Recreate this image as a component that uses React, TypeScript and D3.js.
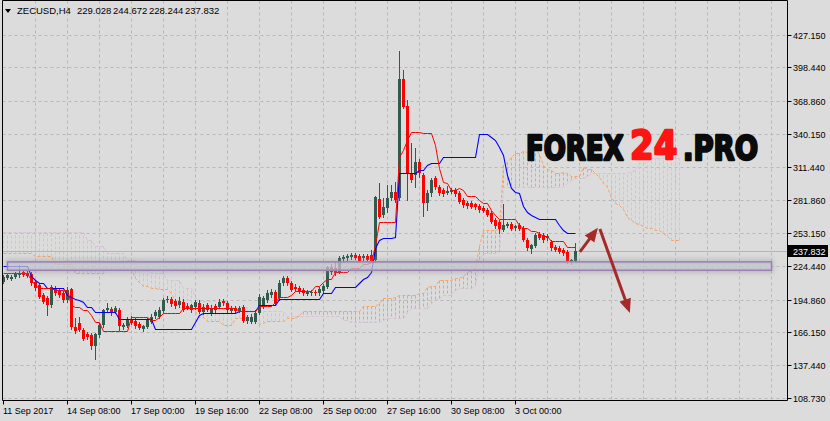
import React from "react";
import * as d3 from "d3";

// ---------- data ----------
const title = "ZECUSD,H4";
const titleValues = ["229.028", "244.672", "228.244", "237.832"];
const lastPrice = 237.832;

const priceTicks = [427.15, 398.44, 368.86, 340.15, 311.44, 281.86, 253.15, 224.44, 194.86, 166.15, 137.44, 108.73];
const timeLabels = ["11 Sep 2017", "14 Sep 08:00", "17 Sep 00:00", "19 Sep 16:00", "22 Sep 08:00", "25 Sep 00:00", "27 Sep 16:00", "30 Sep 08:00", "3 Oct 00:00"];
const timeLabelBars = [0, 16, 32, 48, 64, 80, 96, 112, 128];

const opens = [210.5,213.8,212.7,214.4,216.4,218.8,217.9,217.3,210.5,207.6,198.9,196.0,190.1,204.8,203.3,200.4,194.5,203.9,171.1,174.3,168.2,164.7,163.8,154.2,163.8,172.6,185.7,186.6,184.2,185.7,170.8,172.0,177.8,176.3,173.2,168.8,171.1,175.5,180.5,179.8,185.1,194.5,195.1,193.6,190.1,193.0,189.2,185.7,188.4,192.1,184.2,190.1,183.4,189.2,188.6,193.6,192.1,184.9,187.2,185.1,188.6,176.1,175.5,175.5,183.4,190.1,194.5,198.9,201.8,196.0,209.1,213.5,209.1,206.2,205.3,203.3,199.8,200.4,201.8,200.4,202.6,206.2,223.2,222.3,219.3,230.2,231.1,231.9,233.9,233.1,231.1,233.1,233.9,229.6,282.8,269.0,274.9,283.7,289.5,283.7,388.0,364.6,305.6,304.1,315.8,304.1,279.3,288.1,301.2,293.9,290.9,288.6,289.5,290.9,288.1,282.2,279.8,279.3,278.4,276.9,274.9,273.4,270.5,264.6,263.2,255.8,259.4,261.2,257.4,260.3,257.4,247.1,238.9,242.1,252.1,251.5,248.6,245.6,241.2,239.8,238.4,236.9,228.7,229.028];
const highs = [216.4,217.3,216.4,219.1,225.2,220.8,219.9,219.1,212.0,209.4,200.6,198.0,207.6,206.8,205.0,202.4,205.9,205.0,178.7,179.6,170.0,166.4,165.6,165.6,174.3,186.6,191.9,188.4,189.2,187.5,174.3,179.6,180.5,178.7,175.2,172.6,178.7,182.2,185.7,188.4,196.3,198.0,197.1,195.4,197.1,195.4,191.9,191.0,194.5,194.5,191.0,191.9,190.1,191.0,195.4,195.4,193.6,189.2,189.2,189.2,190.1,181.3,182.2,185.7,199.8,198.0,203.3,204.2,203.3,212.0,215.5,215.5,211.2,208.5,206.8,205.0,203.3,203.3,203.3,205.9,208.5,224.3,226.1,227.8,233.1,233.9,234.8,235.7,235.7,234.8,234.8,234.8,238.3,285.7,296.8,283.9,295.4,295.4,298.2,412.9,396.2,369.9,331.9,327.8,318.2,305.9,290.9,301.5,303.3,295.4,292.7,294.5,292.7,292.7,290.1,283.9,281.3,281.3,279.5,278.7,276.9,275.1,272.5,266.4,264.6,278.7,262.9,262.9,260.3,262.0,259.4,248.8,243.6,253.2,254.1,253.2,252.3,247.1,242.7,241.8,240.1,238.4,230.4,244.672];
const lows = [209.4,212.9,212.0,213.8,214.7,215.5,214.7,207.6,203.3,196.3,191.9,181.3,188.3,198.9,197.1,192.7,192.7,169.1,165.6,167.3,159.4,160.3,151.5,142.5,162.0,170.8,184.0,181.3,183.1,168.2,169.1,170.8,173.4,170.0,169.1,167.3,170.0,174.3,178.7,178.7,184.0,192.7,189.2,187.5,188.4,184.9,186.6,184.0,186.6,183.1,182.2,184.9,181.3,184.0,187.5,190.1,184.0,183.1,184.0,184.0,175.2,174.3,174.3,174.3,182.2,187.5,192.7,197.1,190.1,194.5,207.6,207.6,202.4,202.4,200.6,198.9,198.9,198.9,198.9,198.9,201.5,205.0,217.3,216.4,218.2,228.7,229.6,230.4,230.4,227.8,229.6,228.7,227.8,227.8,266.4,267.3,271.6,282.2,280.4,282.2,362.9,282.2,298.0,293.9,302.4,268.2,273.4,285.7,291.8,286.6,285.7,287.4,288.3,285.7,279.5,276.0,275.1,275.1,274.3,271.6,271.6,268.1,262.0,257.6,253.2,254.9,258.5,255.8,255.8,255.8,246.2,238.3,235.4,241.0,248.0,245.3,247.1,238.3,237.5,235.7,233.9,226.9,226.0,228.244];
const closes = [214.9,216.0,214.9,217.9,217.3,216.4,215.5,209.1,204.8,197.4,193.0,190.1,206.2,200.4,198.9,194.5,203.3,170.6,167.6,168.2,160.0,161.8,154.2,164.4,172.6,185.7,187.2,183.4,187.2,171.7,172.6,177.8,174.6,171.7,170.2,171.7,176.9,179.8,184.0,185.7,194.5,195.1,191.0,189.2,193.6,185.7,187.2,190.1,192.7,184.2,188.6,185.7,187.7,185.7,193.0,191.6,185.7,187.7,185.1,187.2,176.3,179.3,179.8,183.4,197.4,196.3,200.6,201.5,191.6,209.7,213.5,209.1,203.3,203.9,201.8,200.4,201.8,201.8,200.4,203.9,206.8,223.7,219.3,217.9,231.1,232.5,233.1,233.9,231.1,229.0,233.1,229.6,229.0,285.1,267.5,276.3,283.7,289.5,282.2,388.0,364.0,305.6,299.7,315.8,305.6,279.3,288.1,299.7,293.9,288.1,287.4,290.3,290.9,287.4,280.7,277.8,276.9,276.3,275.8,273.4,272.8,269.0,263.2,259.4,256.7,260.3,261.2,256.7,259.4,257.0,247.1,239.8,242.7,251.5,249.1,247.1,250.6,239.8,238.4,236.9,235.4,228.1,229.3,237.832];

// Ichimoku lines: [bar, value] where the value changes
const tenkanSteps = [[0,218.1],[7,212.0],[8,207.6],[9,204.7],[13,203.2],[17,190.0],[18,188.3],[20,185.7],[22,181.3],[23,175.4],[25,167.5],[32,179.3],[37,176.9],[39,179.5],[40,183.0],[41,183.3],[45,187.7],[59,184.4],[64,189.2],[68,192.9],[69,197.3],[72,198.8],[73,202.3],[78,206.7],[80,210.2],[81,212.9],[83,219.0],[87,222.5],[90,226.0],[92,227.8],[93,242.7],[94,263.1],[99,320.1],[100,326.0],[101,334.8],[102,341.8],[103,342.1],[105,340.7],[108,330.4],[109,310.2],[110,298.2],[111,297.1],[112,290.9],[114,292.7],[115,290.9],[116,285.7],[119,282.2],[120,279.5],[122,273.4],[123,269.0],[124,265.9],[129,260.2],[130,258.0],[132,255.0],[134,253.2],[135,250.6],[137,245.8],[141,240.5]];
const kijunSteps = [[0,224.3],[7,215.5],[8,212.0],[9,209.1],[11,204.7],[16,198.8],[17,197.1],[18,195.3],[19,194.4],[20,192.7],[21,188.6],[23,184.2],[29,177.5],[38,169.4],[48,175.1],[49,181.3],[50,182.6],[59,184.8],[64,190.1],[69,195.3],[80,201.0],[83,205.4],[89,209.4],[90,212.9],[91,214.9],[92,219.3],[93,240.0],[94,247.1],[95,248.8],[98,249.7],[99,305.6],[104,308.5],[106,312.9],[107,314.9],[110,320.1],[119,339.8],[122,337.4],[123,334.8],[124,328.9],[125,321.6],[126,304.1],[127,292.7],[128,289.2],[129,288.3],[130,276.9],[131,271.6],[132,269.0],[133,267.2],[134,265.2],[139,260.2],[140,255.8],[141,253.2],[142,252.8]];
const spanASteps = [[0,235.4],[8,233.0],[13,226.0],[18,218.1],[26,221.2],[33,213.7],[34,209.8],[35,206.9],[37,204.7],[39,203.9],[42,201.0],[43,193.6],[44,191.8],[45,191.4],[46,189.2],[47,187.1],[48,184.9],[49,179.8],[51,175.8],[55,172.5],[58,178.4],[63,177.2],[64,173.1],[65,174.4],[66,176.2],[67,176.4],[71,178.6],[74,181.4],[75,184.4],[76,185.1],[85,184.5],[90,189.6],[94,191.5],[95,196.3],[98,197.1],[99,198.8],[104,201.0],[106,205.6],[107,206.9],[109,212.2],[113,213.9],[115,215.9],[116,219.4],[117,220.4],[118,223.5],[119,241.4],[120,255.8],[124,256.4],[125,312.9],[126,315.8],[127,320.1],[128,323.7],[129,323.8],[130,325.2],[131,324.5],[132,326.7],[133,327.8],[134,322.6],[135,312.5],[136,309.2],[137,308.6],[138,305.5],[140,306.4],[141,305.5],[142,302.9],[145,310.9],[146,309.6],[148,305.4],[149,301.9],[150,297.4],[151,293.7],[152,285.0],[153,279.3],[154,277.5],[155,274.3],[156,267.4],[157,264.8],[158,262.0],[159,261.1],[160,259.2],[161,257.9],[163,255.5],[165,253.0],[166,250.8],[167,246.8],[168,246.7]];
const spanBSteps = [[0,254.1],[21,247.1],[23,241.8],[26,235.7],[31,229.5],[34,224.3],[37,218.1],[41,212.0],[45,205.0],[48,197.1],[49,193.6],[57,188.3],[62,184.8],[71,180.5],[85,177.2],[87,174.7],[95,177.2],[96,178.9],[101,184.0],[102,187.0],[107,192.0],[108,194.0],[109,196.0],[110,199.0],[113,202.8],[114,205.0],[118,206.3],[119,230.0],[120,235.5],[124,236.2],[125,293.6],[141,297.5],[142,300.1],[143,301.5],[146,303.6],[147,305.8],[157,307.2],[158,308.9],[159,314.6],[161,315.5],[162,319.0]];

// support zone and arrows, in [bar, price]
const zoneBars = [1, 192];
const zonePrices = [227.9, 220.5];
const arrowUp = [[144.1, 236.6], [148.6, 257.8]];
const arrowDown = [[149.1, 256.7], [156.6, 183.1]];

// ---------- layout ----------
const W = 830, H = 421;
const PL = 2.5, PR = 787.5, PT = 0.5, PB = 400.5;
const NBARS = opens.length;
const NCLOUD = NBARS + 26;

function holdSteps(steps: number[][], n: number): number[] {
  const out: number[] = [];
  let j = 0;
  for (let i = 0; i < n; i++) {
    while (j + 1 < steps.length && steps[j + 1][0] <= i) j++;
    out.push(steps[j][1]);
  }
  return out;
}

const BG = "#dcdcdc";
const GRID = "#b9b9b9";
const BULL = "#2f5c4c";
const BEAR = "#ff0000";
const SANDY = "#f4a460";
const THISTLE = "#d8bfd8";
const FONT = "'Liberation Sans', Arial, sans-serif";

export default function App() {
  const x = d3.scaleLinear().domain([0, 1]).range([3.5, 7.5]);
  const y = d3.scaleLinear().domain([108.73, 427.15]).range([397.7, 34.7]);
  const cy = (p: number) => Math.round(y(p)) + 0.5;

  const tenkan = holdSteps(tenkanSteps, NBARS);
  const kijun = holdSteps(kijunSteps, NBARS);
  const spanA = holdSteps(spanASteps, NCLOUD);
  const spanB = holdSteps(spanBSteps, NCLOUD);

  const line = d3.line<number>().x((_, i) => x(i)).y((v) => cy(v));

  const vGrid = d3.range(8, 200, 8).map((b) => x(b)).filter((v) => v < PR - 2);

  const arrowHead = (pts: number[][], key: string) => {
    const [p0, p1] = pts;
    const x0 = x(p0[0]), y0 = y(p0[1]), x1 = x(p1[0]), y1 = y(p1[1]);
    const ang = Math.atan2(y1 - y0, x1 - x0);
    const L = 14, Wd = 6;
    const bx = x1 - L * Math.cos(ang), by = y1 - L * Math.sin(ang);
    const nx = -Math.sin(ang), ny = Math.cos(ang);
    return (
      <g key={key}>
        <line x1={x0} y1={y0} x2={bx + 2 * Math.cos(ang)} y2={by + 2 * Math.sin(ang)} stroke="#a52a2a" strokeWidth={3} />
        <path d={`M${x1},${y1}L${bx + nx * Wd},${by + ny * Wd}L${bx - nx * Wd},${by - ny * Wd}Z`} fill="#a52a2a" />
      </g>
    );
  };

  const zx0 = x(zoneBars[0]), zx1 = x(zoneBars[1]);
  const zy0 = y(zonePrices[0]), zy1 = y(zonePrices[1]);

  return (
    <svg width={W} height={H} style={{ position: "absolute", left: 0, top: 0, display: "block" }} fontFamily={FONT}>
      <defs>
        <clipPath id="plot">
          <rect x={PL} y={PT} width={PR - PL} height={PB - PT} />
        </clipPath>
        <linearGradient id="zoneFill" x1="0" y1="0" x2="0" y2="1">
          <stop offset="0" stopColor="#b9b9c6" stopOpacity={0.75} />
          <stop offset="0.5" stopColor="#d6d6de" stopOpacity={0.6} />
          <stop offset="1" stopColor="#b9b9c6" stopOpacity={0.75} />
        </linearGradient>
        <filter id="blur" x="-5%" y="-100%" width="110%" height="300%">
          <feGaussianBlur stdDeviation="2.5" />
        </filter>
      </defs>
      <rect x={0} y={0} width={W} height={H} fill={BG} />

      {/* grid */}
      <g stroke={GRID} strokeWidth={1} strokeDasharray="3,3">
        {priceTicks.map((p) => (
          <line key={"h" + p} x1={PL} x2={PR} y1={cy(p)} y2={cy(p)} />
        ))}
        {vGrid.map((v) => (
          <line key={"v" + v} x1={v} x2={v} y1={PT} y2={PB} />
        ))}
      </g>

      <g clipPath="url(#plot)">
        {/* cloud hatch */}
        <g strokeWidth={1} strokeDasharray="3,2">
          {spanA.map((a, i) => {
            const b = spanB[i];
            return (
              <line key={"k" + i} x1={x(i)} x2={x(i)} y1={cy(a)} y2={cy(b)} stroke={a >= b ? SANDY : THISTLE} />
            );
          })}
        </g>
        <path d={line(spanB) || ""} fill="none" stroke={THISTLE} strokeWidth={1} strokeDasharray="3,2" />
        <path d={line(spanA) || ""} fill="none" stroke={SANDY} strokeWidth={1} strokeDasharray="3,2" />

        {/* last price line */}
        <line x1={PL} x2={PR} y1={cy(lastPrice)} y2={cy(lastPrice)} stroke="#b4b4b4" strokeWidth={1} />

        {/* candles */}
        {opens.map((o, i) => {
          const c = closes[i];
          const bull = c >= o;
          const col = bull ? BULL : BEAR;
          const top = Math.round(y(Math.max(o, c)));
          const bot = Math.round(y(Math.min(o, c)));
          const xc = x(i);
          return (
            <g key={"c" + i}>
              <line x1={xc} x2={xc} y1={Math.round(y(highs[i]))} y2={Math.round(y(lows[i])) + 1} stroke={col} strokeWidth={1} />
              <rect x={xc - 1.5} y={top} width={3} height={Math.max(1, bot - top)} fill={col} />
            </g>
          );
        })}

        {/* tenkan / kijun */}
        <path d={line(kijun) || ""} fill="none" stroke="#0000ff" strokeWidth={1.1} />
        <path d={line(tenkan) || ""} fill="none" stroke="#ff0000" strokeWidth={1} />

        {/* zone */}
        <rect x={zx0 - 2} y={zy0 - 3} width={zx1 - zx0 + 4} height={zy1 - zy0 + 6} fill="#8a8a96" opacity={0.35} filter="url(#blur)" />
        <rect x={zx0} y={zy0} width={zx1 - zx0} height={zy1 - zy0} fill="url(#zoneFill)" stroke="#9a80b4" strokeWidth={1.5} />

        {/* arrows */}
        {arrowHead(arrowUp, "a1")}
        {arrowHead(arrowDown, "a2")}

        {/* watermark: natural-width fonts, stretched vertically */}
        <g fontFamily="'DejaVu Sans', sans-serif" fontWeight="bold" strokeLinejoin="round">
          <text transform="translate(526,160) scale(1,1.3)" fontSize={26} fill="#0b0b0b" stroke="#0b0b0b" strokeWidth={2}>FOREX</text>
          <text transform="translate(630,159) scale(1,1.17)" fontSize={34} fill="#ff1414" stroke="#ff1414" strokeWidth={2}>24</text>
          <text transform="translate(683,160) scale(1,1.24)" fontSize={27.5} fill="#0b0b0b" stroke="#0b0b0b" strokeWidth={2}>.PRO</text>
        </g>
      </g>

      {/* frame */}
      <g stroke="#000" strokeWidth={1} fill="none">
        <line x1={PL} x2={PL} y1={PT} y2={PB} />
        <line x1={PL} x2={PR} y1={PB} y2={PB} />
        <line x1={PR} x2={PR} y1={PT} y2={PB} />
        <line x1={PL} x2={PR} y1={PT} y2={PT} />
      </g>

      {/* price axis */}
      <g fontSize={9} fill="#000">
        {priceTicks.map((p) => (
          <g key={"pt" + p}>
            <line x1={PR} x2={PR + 4} y1={cy(p)} y2={cy(p)} stroke="#000" />
            <text x={793} y={cy(p) + 3.5}>{p.toFixed(3)}</text>
          </g>
        ))}
        <rect x={788} y={cy(lastPrice) - 6.5} width={40} height={12} fill="#000" />
        <text x={793} y={cy(lastPrice) + 3.5} fill="#fff">{lastPrice.toFixed(3)}</text>
      </g>

      {/* time axis */}
      <g fontSize={9} fill="#000">
        {timeLabels.map((t, k) => (
          <g key={"t" + k}>
            <line x1={x(timeLabelBars[k])} x2={x(timeLabelBars[k])} y1={PB} y2={PB + 4} stroke="#000" />
            <text x={x(timeLabelBars[k]) - 0.5} y={414}>{t}</text>
          </g>
        ))}
      </g>

      {/* title */}
      <path d="M5,9L11,9L8,13Z" fill="#000" />
      <g fontSize={9.5} fill="#000">
        <text x={17} y={14}>{title}</text>
        {titleValues.map((v, k) => (
          <text key={"tv" + k} x={77 + k * 36} y={14}>{v}</text>
        ))}
      </g>
    </svg>
  );
}
